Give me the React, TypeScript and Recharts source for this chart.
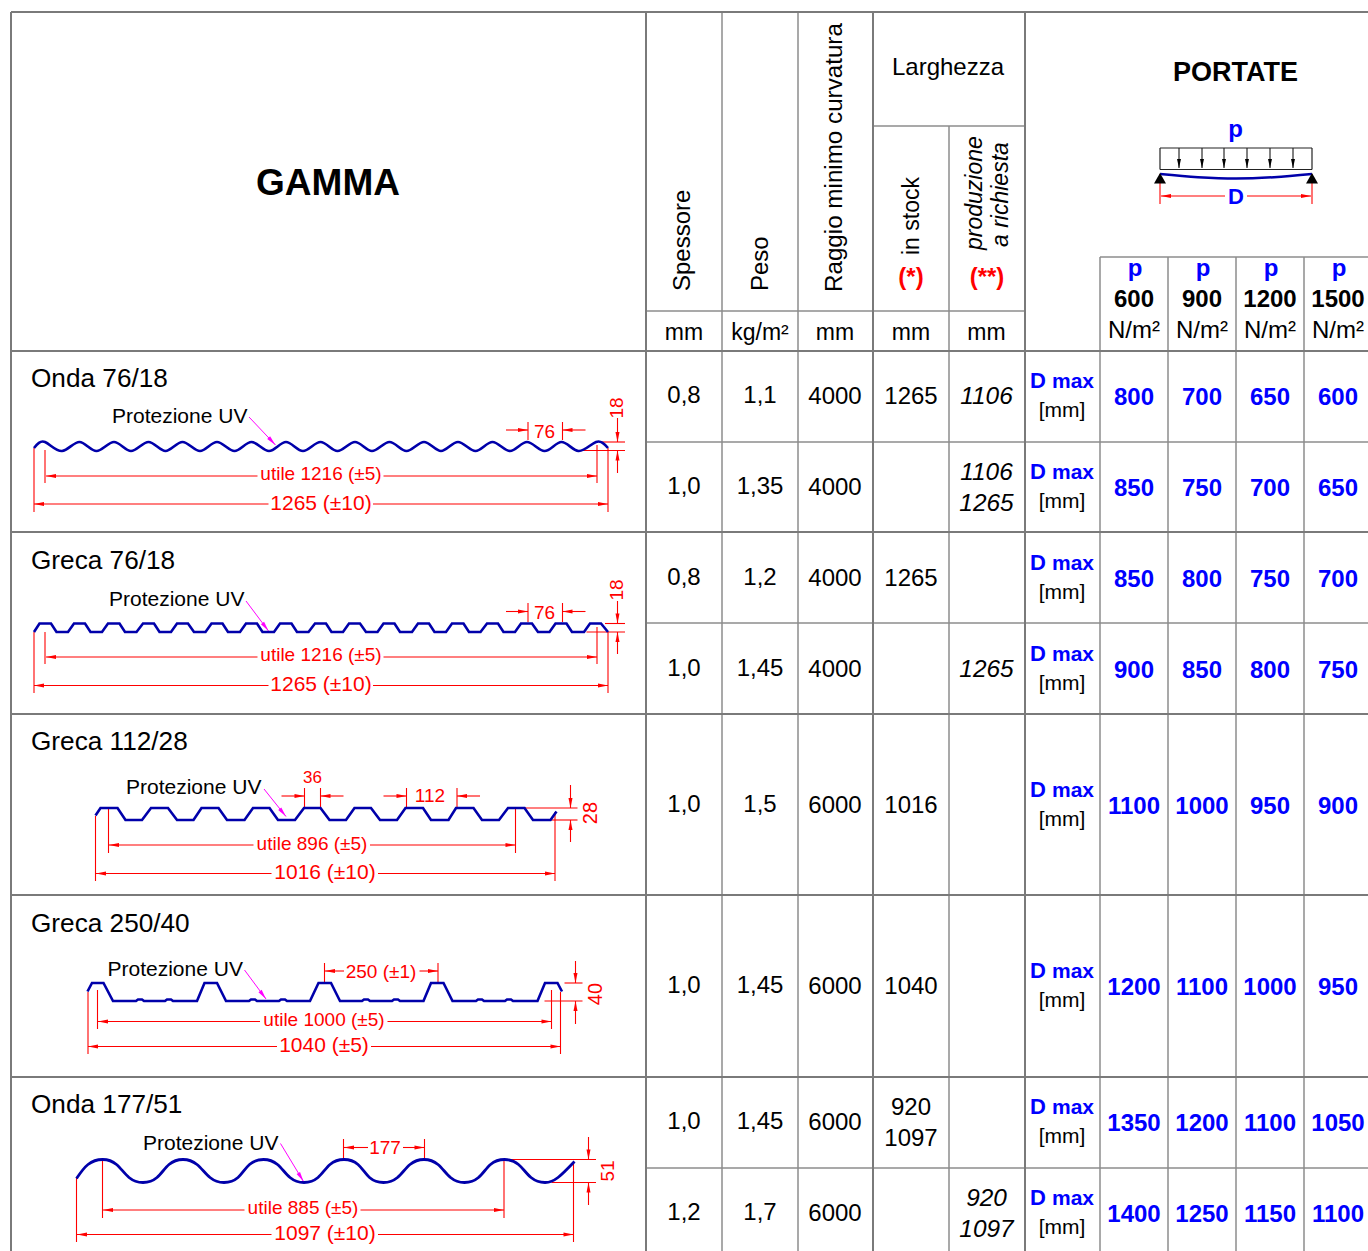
import { ComposedChart, Line, Scatter, XAxis, YAxis, ReferenceLine } from "recharts";

const WIDTH = 1368;
const HEIGHT = 1251;
const FONT = "'Liberation Sans', Arial, sans-serif";
const BLUE = "#0000ff";
const RED = "#ff0000";
const STEEL = "#0000aa";

// table values
const gammaNames = ["Onda 76/18", "Greca 76/18", "Greca 112/28", "Greca 250/40", "Onda 177/51"];
const spessore = ["0,8", "1,0", "0,8", "1,0", "1,0", "1,0", "1,0", "1,2"];
const peso = ["1,1", "1,35", "1,2", "1,45", "1,5", "1,45", "1,45", "1,7"];
const raggio = ["4000", "4000", "4000", "4000", "6000", "6000", "6000", "6000"];
const inStock = ["1265", "", "1265", "", "1016", "1040", "920|1097", ""];
const richiesta = ["1106", "1106|1265", "", "1265", "", "", "", "920|1097"];
const portate600 = [800, 850, 850, 900, 1100, 1200, 1350, 1400];
const portate900 = [700, 750, 800, 850, 1000, 1100, 1200, 1250];
const portate1200 = [650, 700, 750, 800, 950, 1000, 1100, 1150];
const portate1500 = [600, 650, 700, 750, 900, 950, 1050, 1100];
const loads = ["600", "900", "1200", "1500"];
const utileLabels = ["utile 1216 (±5)", "utile 1216 (±5)", "utile 896 (±5)", "utile 1000 (±5)", "utile 885 (±5)"];
const totalLabels = ["1265 (±10)", "1265 (±10)", "1016 (±10)", "1040 (±5)", "1097 (±10)"];

// sheet layout
const rowBase = [404, 495, 586, 677, 813, 994, 1130, 1221];
const gammaBase = [387, 568.5, 750, 932, 1113];
const colCenter = [684, 760, 835, 911, 986.5];
const loadCenter = [1134, 1202, 1270, 1338];
const uvPos = [[112, 423], [109, 606], [126, 794], [107.5, 976], [143, 1150]];
const utilePos = [[321, 480], [321, 661], [312, 850], [324, 1026], [303, 1214]];
const totalPos = [[321, 510], [321, 691], [325, 879], [324, 1052], [325, 1240]];

type Seg = [number, number, number, number];

const gridMain: Seg[] = [
  [11, 12, 1368, 12], [11, 351, 1368, 351], [11, 532, 1368, 532], [11, 714, 1368, 714],
  [11, 895, 1368, 895], [11, 1077, 1368, 1077],
  [11, 12, 11, 1251], [646, 12, 646, 1251], [873, 12, 873, 1251], [1025, 12, 1025, 1251],
];
const gridThin: Seg[] = [
  [646, 442, 1368, 442], [646, 623, 1368, 623], [646, 1168, 1368, 1168],
  [646, 311, 1025, 311], [873, 126, 1025, 126], [1100, 257, 1368, 257],
  [722, 12, 722, 1251], [798, 12, 798, 1251], [949, 126, 949, 1251],
  [1100, 257, 1100, 1251], [1168, 257, 1168, 1251], [1236, 257, 1236, 1251], [1304, 257, 1304, 1251],
];

// sheet profiles
const onda76: [number, number][] = [
  [34, 448], [45, 442], [62, 451], [79.5, 442], [96.5, 451], [114, 442], [131, 451], [148.5, 442], [165.5, 451],
  [182.5, 442], [200, 451], [217, 442], [234.5, 451], [251.5, 442], [269, 451], [286, 442], [303, 451],
  [320.5, 442], [337.5, 451], [355, 442], [372, 451], [389.5, 442], [406.5, 451], [424, 442], [441, 451],
  [458, 442], [475.5, 451], [492.5, 442], [510, 451], [527, 442], [544.5, 451], [561.5, 442], [578.5, 451],
  [596, 442], [608, 448],
];
const greca76: [number, number][] = [
  [34, 632], [39.5, 623.5], [51, 623.5], [56.5, 632], [68, 632], [74, 623.5], [85, 623.5], [90.5, 632], [102, 632],
  [108, 623.5], [119.5, 623.5], [125, 632], [136.5, 632], [143, 623.5], [154, 623.5], [159.5, 632], [171, 632],
  [177, 623.5], [188, 623.5], [194, 632], [205.5, 632], [211.5, 623.5], [222.5, 623.5], [228, 632], [240, 632],
  [246, 623.5], [257, 623.5], [262.5, 632], [274, 632], [280, 623.5], [291.5, 623.5], [297, 632], [308.5, 632],
  [315, 623.5], [326, 623.5], [331.5, 632], [343, 632], [349, 623.5], [360, 623.5], [366, 632], [377.5, 632],
  [383.5, 623.5], [394.5, 623.5], [400, 632], [412, 632], [418, 623.5], [429, 623.5], [434.5, 632], [446, 632],
  [452, 623.5], [463.5, 623.5], [469, 632], [480.5, 632], [487, 623.5], [498, 623.5], [503.5, 632], [515, 632],
  [521, 623.5], [532, 623.5], [538, 632], [549.5, 632], [555.5, 623.5], [566.5, 623.5], [572, 632], [584, 632],
  [590, 623.5], [601, 623.5], [608, 632],
];
const greca112: [number, number][] = [
  [95.5, 815.5], [100.5, 808], [117.5, 808], [125.5, 820], [142, 820], [151, 808], [168, 808], [177, 820], [193.5, 820],
  [201.5, 808], [218.5, 808], [227, 820], [244.5, 820], [253, 808], [269.5, 808], [278, 820], [295, 820],
  [304, 808], [320.5, 808], [329.5, 820], [346, 820], [354.5, 808], [371, 808], [380, 820], [397, 820],
  [405.5, 808], [423, 808], [431, 820], [448.5, 820], [456, 808], [473.5, 808], [482, 820], [499, 820],
  [508, 808], [524.5, 808], [533, 820], [550.5, 820], [556.5, 811.5],
];
const greca250: [number, number][] = [
  [87.5, 991.5], [92, 983], [103.5, 983], [113, 1001], [136, 1001], [138, 999.5], [142, 999.5], [144, 1001],
  [165, 1001], [167, 999.5], [171, 999.5], [173, 1001], [197, 1001], [204.5, 983], [217, 983], [226, 1001],
  [249, 1001], [251, 999.5], [255, 999.5], [257, 1001], [279, 1001], [281, 999.5], [285, 999.5], [287, 1001],
  [310, 1001], [318.5, 983], [331, 983], [340, 1001], [362, 1001], [364, 999.5], [368, 999.5], [370, 1001],
  [392, 1001], [394, 999.5], [398, 999.5], [400, 1001], [423.5, 1001], [431, 983], [443.5, 983], [452.5, 1001],
  [476, 1001], [478, 999.5], [482, 999.5], [484, 1001], [505, 1001], [507, 999.5], [511, 999.5], [513, 1001],
  [537.5, 1001], [545, 983], [557.5, 983], [562, 991.5],
];
const onda177: [number, number][] = [
  [76.5, 1178.5], [88, 1164.5], [102.5, 1159.5],
  [116.5, 1164.5], [129, 1177.5], [143, 1182.5],
  [157, 1177.5], [169, 1164.5], [183, 1159.5],
  [197, 1164.5], [210, 1177.5], [224, 1182.5],
  [238, 1177.5], [249.5, 1164.5], [263.5, 1159.5],
  [277.5, 1164.5], [290, 1177.5], [304, 1182.5],
  [318, 1177.5], [330, 1164.5], [344, 1159.5],
  [358, 1164.5], [369.5, 1177.5], [383.5, 1182.5],
  [397.5, 1177.5], [410, 1164.5], [424, 1159.5],
  [438, 1164.5], [450.5, 1177.5], [464.5, 1182.5],
  [478.5, 1177.5], [490.5, 1164.5], [504.5, 1159.5],
  [518.5, 1164.5], [531, 1177.5], [545, 1182.5],
  [558, 1177.5], [574.5, 1161.5],
];
const beam: [number, number][] = [[1160, 174], [1198, 177.2], [1236, 178.5], [1274, 177.2], [1312, 174]];

const angularProfiles = [greca76, greca112, greca250];

// extension and witness lines, no arrow head
const witness: Seg[] = [
  // onda 76/18
  [34, 448, 34, 512], [45, 450, 45, 483], [597, 445, 597, 483], [608, 448, 608, 512],
  [528, 422, 528, 440], [562.5, 422, 562.5, 440], [599, 442, 625, 442], [582.5, 450.5, 625, 450.5],
  // greca 76/18
  [34, 632, 34, 693], [45, 632, 45, 664], [597, 627, 597, 664], [608, 632, 608, 693],
  [528, 603, 528, 622], [562.5, 603, 562.5, 622], [605, 623.5, 625, 623.5], [586.5, 632, 625, 632],
  // greca 112/28
  [95.5, 816, 95.5, 881], [108.5, 809, 108.5, 853], [515.5, 809, 515.5, 853], [555, 812, 555, 881],
  [304.5, 788, 304.5, 808], [320.5, 788, 320.5, 808], [406.5, 788, 406.5, 808], [457, 788, 457, 808],
  [524.5, 808, 577.5, 808], [551.5, 820, 577.5, 820],
  // greca 250/40
  [88, 992, 88, 1054], [97.5, 990, 97.5, 1029], [551.5, 990, 551.5, 1029], [560.5, 992, 560.5, 1054],
  [324.5, 963, 324.5, 983], [438, 963, 438, 983], [564.5, 983, 582.5, 983], [544.5, 1001, 582.5, 1001],
  // onda 177/51
  [76.5, 1178, 76.5, 1242], [102.5, 1160, 102.5, 1218], [504, 1160, 504, 1218], [573.5, 1163, 573.5, 1242],
  [343.5, 1139, 343.5, 1160], [424.5, 1139, 424.5, 1160], [510, 1159.5, 596, 1159.5], [551.5, 1182.5, 596, 1182.5],
  // load sketch
  [1160, 174, 1160, 204], [1312, 174, 1312, 204],
];

// dimension lines, head at the second point
const dimArrows: Seg[] = [
  [257.5, 476, 46, 476], [383.5, 476, 597, 476], [268.5, 504, 34, 504], [373, 504, 608, 504],
  [506, 430, 528, 430], [585.5, 430, 562.5, 430], [617.5, 418, 617.5, 442], [617.5, 473, 617.5, 450.5],
  [257.5, 657, 46, 657], [383.5, 657, 597, 657], [268.5, 685.5, 34, 685.5], [373, 685.5, 608, 685.5],
  [506, 611.5, 528, 611.5], [585.5, 611.5, 562.5, 611.5], [617.5, 601, 617.5, 623.5], [617.5, 654, 617.5, 632],
  [253.5, 845, 109, 845], [370, 845, 515.5, 845], [271.5, 873.5, 96, 873.5], [378, 873.5, 555, 873.5],
  [281.5, 796, 304.5, 796], [343.5, 796, 320.5, 796], [383.5, 796, 406.5, 796], [480, 796, 457, 796],
  [570.5, 785, 570.5, 808], [570.5, 842, 570.5, 820],
  [260, 1021.5, 98, 1021.5], [387.5, 1021.5, 551.5, 1021.5], [277, 1046.5, 88, 1046.5], [371, 1046.5, 560.5, 1046.5],
  [344, 971, 325, 971], [419.5, 971, 438, 971], [575.5, 961, 575.5, 983], [575.5, 1024, 575.5, 1001],
  [244.5, 1210, 103, 1210], [360.5, 1210, 504, 1210], [271.5, 1234.5, 77, 1234.5], [378, 1234.5, 573.5, 1234.5],
  [368, 1147.5, 344, 1147.5], [403, 1147.5, 424.5, 1147.5], [588.5, 1137, 588.5, 1159.5], [588.5, 1205, 588.5, 1182.5],
  [1225, 196, 1161, 196], [1247, 196, 1311, 196],
];
const uvArrows: Seg[] = [
  [249, 417, 275.5, 445], [246, 601, 268.5, 631], [264, 789, 286, 816.5], [244.5, 970, 266, 999], [280.5, 1143.5, 303.5, 1181.5],
];
const loadArrows: Seg[] = [
  [1179, 148, 1179, 168], [1202, 148, 1202, 168], [1224, 148, 1224, 168],
  [1247, 148, 1247, 168], [1270, 148, 1270, 168], [1293, 148, 1293, 168],
];
const loadBox: Seg[] = [[1160, 148, 1312, 148], [1160, 169.5, 1312, 169.5], [1160, 148, 1160, 169.5], [1312, 148, 1312, 169.5]];
const supports = [{ x: 1160, y: 173 }, { x: 1312, y: 173 }];

type Txt = {
  x: number; y: number; label: string; size?: number; fill?: string;
  bold?: boolean; italic?: boolean; anchor?: string; rotate?: boolean;
};

const texts: Txt[] = [];
const t = (x: number, y: number, label: string, o: Partial<Txt> = {}) => texts.push({ x, y, label, ...o });

// heading row
t(328, 195, "GAMMA", { size: 37, bold: true });
t(1235.5, 80.5, "PORTATE", { size: 27, bold: true });
t(948, 75, "Larghezza");
t(690, 291, "Spessore", { rotate: true, anchor: "start" });
t(768, 291, "Peso", { rotate: true, anchor: "start" });
t(841.5, 292, "Raggio minimo curvatura", { rotate: true, anchor: "start", size: 24.2 });
t(919, 255, "in stock", { rotate: true, anchor: "start", size: 23 });
t(982, 250, "produzione", { rotate: true, anchor: "start", italic: true, size: 23 });
t(1008, 247, "a richiesta", { rotate: true, anchor: "start", italic: true, size: 23 });
t(911, 285, "(*)", { fill: RED, bold: true });
t(987, 285, "(**)", { fill: RED, bold: true });
["mm", "kg/m²", "mm", "mm", "mm"].forEach((u, i) => t(colCenter[i], 340, u, { size: 23 }));
t(1235.5, 137, "p", { fill: BLUE, bold: true });
t(1236, 204, "D", { fill: BLUE, bold: true, size: 22 });
loads.forEach((load, i) => {
  t(loadCenter[i] + 1, 276, "p", { fill: BLUE, bold: true });
  t(loadCenter[i], 307, load, { bold: true });
  t(loadCenter[i], 338, "N/m²");
});

// left column
gammaNames.forEach((name, i) => {
  t(31, gammaBase[i], name, { size: 26.2, anchor: "start" });
  t(uvPos[i][0], uvPos[i][1], "Protezione UV", { size: 21, anchor: "start" });
  t(utilePos[i][0], utilePos[i][1], utileLabels[i], { size: 19, fill: RED });
  t(totalPos[i][0], totalPos[i][1], totalLabels[i], { size: 21, fill: RED });
});
t(544.5, 438, "76", { size: 19, fill: RED });
t(544.5, 619, "76", { size: 19, fill: RED });
t(312.5, 783, "36", { size: 17, fill: RED });
t(430, 802, "112", { size: 19, fill: RED });
t(381, 978, "250 (±1)", { size: 19, fill: RED });
t(385, 1154, "177", { size: 19, fill: RED });
t(623, 408, "18", { size: 19, fill: RED, rotate: true });
t(623, 590, "18", { size: 19, fill: RED, rotate: true });
t(597, 813, "28", { size: 20, fill: RED, rotate: true });
t(602, 994, "40", { size: 20, fill: RED, rotate: true });
t(614, 1171, "51", { size: 19, fill: RED, rotate: true });

// cells
const cell = (x: number, base: number, value: string, o: Partial<Txt> = {}) => {
  const parts = value.split("|");
  if (parts.length === 1) t(x, base, value, o);
  else {
    t(x, base - 15, parts[0], o);
    t(x, base + 16, parts[1], o);
  }
};
rowBase.forEach((base, r) => {
  if (spessore[r]) cell(colCenter[0], base - 1, spessore[r]);
  cell(colCenter[1], base - 1, peso[r]);
  cell(colCenter[2], base - 0.5, raggio[r]);
  if (inStock[r]) cell(colCenter[3], base - 0.5, inStock[r]);
  if (richiesta[r]) cell(colCenter[4], base - 0.5, richiesta[r], { italic: true, size: 24.4 });
  t(1030, base - 16, "D", { fill: BLUE, bold: true, size: 22, anchor: "start" });
  t(1052, base - 16, "max", { fill: BLUE, bold: true, size: 21, anchor: "start" });
  t(1062, base + 13, "[mm]", { size: 21 });
  [portate600, portate900, portate1200, portate1500].forEach((serie, c) =>
    t(loadCenter[c], base + 0.5, String(serie[r]), { fill: BLUE, bold: true })
  );
});

const TextMark = (props: any) => {
  const { cx, cy, payload } = props;
  const p: Txt = payload;
  return (
    <text
      x={cx}
      y={cy}
      fontFamily={FONT}
      fontSize={p.size ?? 24}
      fontWeight={p.bold ? 700 : 400}
      fontStyle={p.italic ? "italic" : "normal"}
      fill={p.fill ?? "#000"}
      textAnchor={p.anchor ?? "middle"}
      transform={p.rotate ? `rotate(-90 ${cx} ${cy})` : undefined}
    >
      {p.label}
    </text>
  );
};

const heads = (segs: Seg[]) =>
  segs.map(([x1, y1, x2, y2]) => ({ x: x2, y: y2, angle: (Math.atan2(y2 - y1, x2 - x1) * 180) / Math.PI }));

const headShape = (fill: string, len: number, half: number) => (props: any) => (
  <path
    d={`M0 0L${-len} ${-half}L${-len} ${half}Z`}
    fill={fill}
    transform={`translate(${props.cx} ${props.cy}) rotate(${props.payload.angle})`}
  />
);

const SupportMark = (props: any) => (
  <path d={`M${props.cx} ${props.cy}l6 10.5h-12Z`} fill="#000" />
);

const toPoints = (pts: [number, number][]) => pts.map(([x, y]) => ({ x, y }));

const segLines = (segs: Seg[], stroke: string, width: number, prefix: string) =>
  segs.map(([x1, y1, x2, y2], i) => (
    <ReferenceLine
      key={prefix + i}
      segment={[{ x: x1, y: y1 }, { x: x2, y: y2 }]}
      stroke={stroke}
      strokeWidth={width}
    />
  ));

export default function App() {
  return (
    <div style={{ position: "absolute", left: 0, top: 0, width: WIDTH, height: HEIGHT, overflow: "hidden", background: "#fff" }}>
      <ComposedChart width={WIDTH} height={HEIGHT} margin={{ top: 0, right: 0, bottom: 0, left: 0 }}>
        <XAxis type="number" dataKey="x" domain={[0, WIDTH]} hide />
        <YAxis type="number" dataKey="y" domain={[0, HEIGHT]} reversed hide />

        {segLines(gridThin, "#8c8c8c", 1.5, "thin")}
        {segLines(gridMain, "#7a7a7a", 2, "main")}
        {segLines(witness, RED, 1.1, "wit")}
        {segLines(dimArrows, RED, 1.1, "dim")}
        {segLines(uvArrows, "#ff00ff", 1, "uv")}
        {segLines(loadArrows, "#000", 1, "load")}
        {segLines(loadBox, "#222", 1.2, "box")}

        {angularProfiles.map((pts, i) => (
          <Line key={"ang" + i} data={toPoints(pts)} dataKey="y" type="linear" stroke={STEEL} strokeWidth={2.6} dot={false} isAnimationActive={false} />
        ))}
        <Line data={toPoints(onda76)} dataKey="y" type="natural" stroke={STEEL} strokeWidth={2.6} dot={false} isAnimationActive={false} />
        <Line data={toPoints(onda177)} dataKey="y" type="natural" stroke={STEEL} strokeWidth={2.8} dot={false} isAnimationActive={false} />
        <Line data={toPoints(beam)} dataKey="y" type="monotoneX" stroke={STEEL} strokeWidth={2.4} dot={false} isAnimationActive={false} />

        <Scatter data={heads(dimArrows)} shape={headShape(RED, 10, 2)} isAnimationActive={false} />
        <Scatter data={heads(uvArrows)} shape={headShape("#ff00ff", 10, 2)} isAnimationActive={false} />
        <Scatter data={heads(loadArrows)} shape={headShape("#000", 9, 2)} isAnimationActive={false} />
        <Scatter data={supports} shape={SupportMark} isAnimationActive={false} />
        <Scatter data={texts} shape={TextMark} isAnimationActive={false} />
      </ComposedChart>
    </div>
  );
}
